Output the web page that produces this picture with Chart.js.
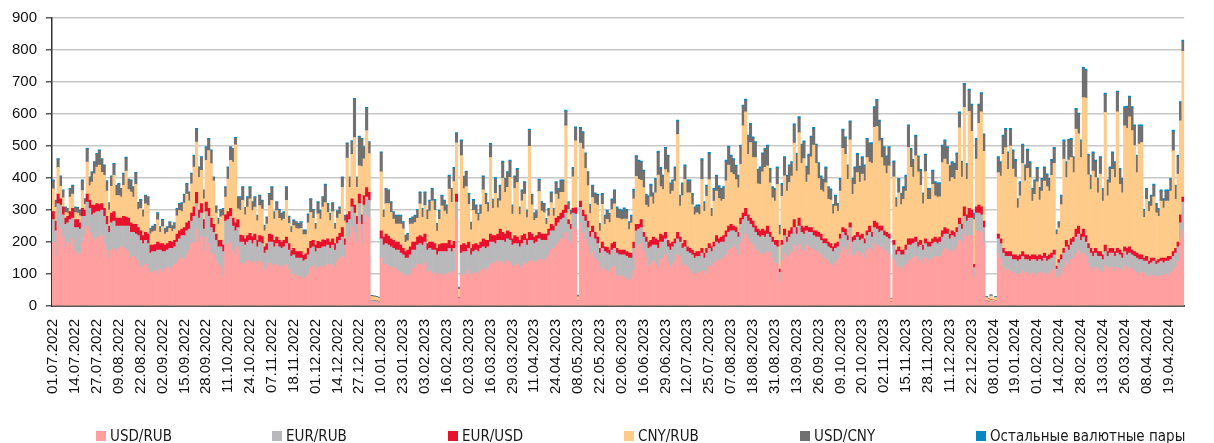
<!DOCTYPE html>
<html>
<head>
<meta charset="utf-8">
<script src="https://cdn.jsdelivr.net/npm/chart.js@4.4.1/dist/chart.umd.min.js"></script>
<style>
html,body{margin:0;padding:0;background:#fff;overflow:hidden;}
#wrap{position:relative;width:1214px;height:443px;}
#c{position:absolute;left:0;top:0;}
.lg{position:absolute;top:428px;font-family:"DejaVu Sans Condensed","DejaVu Sans",sans-serif;font-stretch:condensed;font-size:15px;line-height:17px;color:#1a1a1a;white-space:nowrap;}
.mk{position:absolute;top:431px;width:10px;height:10px;}
</style>
</head>
<body>
<div id="wrap">
<canvas id="c" width="1214" height="443"></canvas>
<div id="legend"></div>
</div>
<script>
const seriesNames = ['USD/RUB','EUR/RUB','EUR/USD','CNY/RUB','USD/CNY','Остальные валютные пары'];
const seriesColors = ['#FF9F9F','#B9B9BB','#E8112D','#FFCB8A','#707070','#0A86BF'];

const tickLabels = ['01.07.2022','14.07.2022','27.07.2022','09.08.2022','22.08.2022','02.09.2022','15.09.2022','28.09.2022','11.10.2022','24.10.2022','07.11.2022','18.11.2022','01.12.2022','14.12.2022','27.12.2022','10.01.2023','23.01.2023','03.02.2023','16.02.2023','02.03.2023','16.03.2023','29.03.2023','11.04.2023','24.04.2023','08.05.2023','22.05.2023','02.06.2023','16.06.2023','29.06.2023','12.07.2023','25.07.2023','07.08.2023','18.08.2023','31.08.2023','13.09.2023','26.09.2023','09.10.2023','20.10.2023','02.11.2023','15.11.2023','28.11.2023','11.12.2023','22.12.2023','08.01.2024','19.01.2024','01.02.2024','14.02.2024','28.02.2024','13.03.2024','26.03.2024','08.04.2024','19.04.2024'];

const USD_RUB = [
200,155,250,240,215,185,200,190,210,170,
160,165,200,225,250,230,215,205,215,210,
220,195,175,150,175,180,170,180,185,180,
175,170,150,155,145,140,120,125,130,115,
105,105,110,100,115,105,115,120,115,125,
130,135,145,150,145,160,175,195,200,240,
200,215,170,215,195,165,160,140,130,120,
90,190,195,200,175,160,
185,135,135,130,140,140,135,140,130,140,
135,110,120,135,130,125,130,125,120,125,
130,115,95,100,90,95,90,85,90,100,
120,125,115,120,125,120,125,130,125,130,
120,140,150,155,150,200,215,250,230,200,
260,195,260,285,275,12,11,10,9,150,
130,130,125,120,120,115,110,105,100,90,
95,100,115,120,130,130,125,135,
105,110,100,105,95,100,100,95,100,105,
95,110,270,22,95,100,100,110,95,100,
105,100,110,115,110,120,130,135,130,140,
135,140,130,140,135,125,125,130,120,125,
135,130,140,140,135,140,145,145,140,150,
160,175,180,190,200,210,210,230,205,195,
245,237,14,258,230,210,190,160,170,150,
140,110,120,115,110,105,120,125,
95,90,95,90,85,80,85,110,180,190,
195,170,150,125,130,140,130,120,145,150,
160,135,120,130,140,160,155,125,130,120,
110,105,100,100,105,110,100,110,125,120,
135,145,140,145,150,160,175,180,185,175,
160,195,210,225,210,200,190,175,170,160,
165,160,170,165,150,135,130,75,140,165,
150,160,170,190,170,190,175,170,
190,185,180,175,170,170,160,150,145,140,
130,125,135,145,165,185,175,160,200,155,
160,170,155,165,150,175,180,170,195,190,
180,185,175,170,160,10,145,120,125,115,
120,130,140,145,150,155,140,145,135,150,
140,145,150,155,150,155,170,180,175,165,
175,170,185,205,195,225,215,220,220,90,
235,235,230,195,12,10,14,9,12,
165,150,120,110,115,110,105,100,100,100,
110,105,100,100,105,100,95,105,100,105,
100,100,110,115,90,90,100,120,140,130,
145,150,165,175,160,165,155,135,120,110,
120,115,110,105,125,115,120,120,110,120,
115,110,125,115,120,115,110,105,100,105,
100,95,90,95,95,90,95,95,95,100,
95,105,110,120,140,210,235
];

const EUR_RUB = [
70,80,70,75,70,70,60,80,65,75,
85,75,80,55,75,75,70,85,80,85,
80,85,80,80,85,85,80,70,65,70,
75,80,80,75,80,80,85,70,75,80,
60,65,60,75,60,65,55,55,65,55,
55,65,65,70,75,75,65,70,80,80,
75,75,70,80,85,80,70,65,55,65,
80,75,75,80,75,75,
60,65,65,60,60,65,60,65,55,60,
60,55,55,65,70,60,65,60,60,60,
65,60,60,60,60,55,60,55,55,60,
60,60,55,60,55,65,60,60,55,60,
55,55,55,60,40,60,55,60,60,55,
60,60,55,55,55,5,5,5,4,60,
60,65,65,65,60,60,65,60,60,60,
55,60,60,55,60,65,65,65,
70,70,75,70,65,70,70,75,70,75,
75,70,55,3,70,70,70,70,65,70,
70,70,70,70,70,65,70,65,65,65,
70,65,70,70,70,65,70,65,65,70,
70,60,65,65,60,60,65,60,65,55,
60,60,55,60,60,60,65,60,50,45,
45,50,2,50,50,55,55,55,60,60,
55,55,60,55,55,55,55,55,
70,70,65,70,70,70,65,70,55,50,
50,45,50,55,55,50,60,60,55,50,
50,50,55,55,55,50,45,55,55,50,
55,55,50,55,50,55,50,55,55,50,
50,55,55,55,50,55,55,55,50,55,
55,60,60,55,55,55,55,55,50,55,
55,55,55,50,50,55,55,30,50,55,
50,55,55,55,55,60,55,55,
45,45,50,45,45,45,45,45,50,45,
50,45,45,40,45,45,45,45,45,45,
45,45,50,45,45,45,50,45,50,50,
50,50,45,45,50,2,45,40,45,45,
40,45,50,45,45,45,45,45,40,45,
45,40,45,45,45,45,45,45,50,45,
45,45,45,50,45,55,50,55,55,30,
55,55,55,50,3,3,4,2,3,
45,45,45,45,40,45,40,45,40,45,
45,40,45,40,40,45,45,40,40,45,
40,45,40,45,25,45,45,45,45,45,
45,50,50,50,45,50,45,45,45,45,
45,40,45,40,45,40,45,45,45,45,
45,40,45,45,45,45,45,45,45,40,
40,45,40,40,45,40,40,45,40,40,
45,40,45,45,45,50,90
];

const EUR_USD = [
25,30,30,20,25,20,20,25,30,25,
25,20,25,20,25,25,30,25,25,22,
20,25,25,20,30,30,25,25,25,30,
28,25,30,25,30,25,30,25,25,30,
25,20,22,25,20,25,20,20,22,20,
20,25,25,20,25,25,25,25,30,35,
25,30,30,30,25,30,25,20,20,20,
20,20,25,25,25,25,
25,22,20,20,20,22,22,20,20,20,
22,20,20,25,22,20,20,20,20,20,
20,20,18,20,20,20,20,18,18,20,
22,20,20,22,20,22,20,20,20,20,
20,20,22,30,20,25,25,25,25,25,
30,30,30,30,25,1,1,1,1,25,
25,30,28,25,25,25,25,25,20,20,
25,25,25,25,25,25,25,25,
20,20,25,20,20,22,25,25,25,25,
20,22,25,1,25,25,20,20,20,22,
20,20,20,25,25,20,25,20,25,20,
35,25,25,25,25,20,25,20,20,25,
20,20,25,20,20,20,20,20,20,20,
20,20,15,25,20,20,25,25,15,15,
15,20,0,20,20,20,20,18,20,20,
20,15,20,15,18,15,20,20,
15,15,15,15,15,15,15,20,20,15,
25,15,15,20,20,25,20,25,25,20,
20,20,20,15,15,20,15,15,20,15,
15,15,15,15,15,15,15,15,15,15,
15,20,15,15,20,20,20,20,15,15,
15,20,20,25,20,20,20,20,20,20,
20,20,25,15,15,15,20,10,15,20,
15,20,20,25,20,25,20,20,
15,15,15,15,20,15,20,15,15,15,
15,15,15,15,15,15,20,15,15,15,
15,15,15,15,15,15,20,15,20,20,
20,15,15,15,15,1,15,15,15,15,
15,15,20,20,15,15,15,15,15,15,
15,15,15,15,15,15,20,20,15,15,
15,15,15,20,15,30,20,30,25,10,
20,25,25,20,1,1,1,1,1,
15,15,15,15,15,15,15,15,15,15,
15,15,15,15,15,15,15,15,15,15,
15,15,15,15,10,10,15,15,20,15,
20,15,25,25,20,25,20,15,15,15,
15,15,15,15,20,15,15,15,15,15,
15,15,15,20,20,15,15,15,15,15,
10,15,10,15,10,10,10,10,15,10,
15,10,15,15,15,25,15
];

const CNY_RUB = [
71,43,83,39,28,17,10,45,45,22,
20,22,56,18,100,46,72,98,114,123,
98,103,79,50,84,113,70,70,65,97,
144,89,96,85,125,56,70,59,89,89,
35,42,42,69,35,53,35,35,41,33,
35,57,63,55,77,90,64,92,124,157,
102,104,65,130,181,170,136,65,51,74,
92,55,102,150,175,244,
34,77,110,75,89,108,81,84,61,94,
86,50,61,89,108,67,83,69,67,67,
115,63,57,71,73,70,73,65,60,80,
91,69,50,86,72,102,118,83,67,85,
45,60,60,126,56,177,76,139,211,91,
88,151,115,178,121,12,12,11,11,184,
62,95,102,83,67,56,56,66,61,29,
29,71,56,61,59,99,62,89,
76,97,129,104,54,79,118,102,92,160,
134,187,160,26,280,172,183,118,58,107,
92,76,87,153,113,89,239,85,132,82,
89,169,130,136,172,77,148,171,81,109,
125,66,269,91,53,54,128,72,67,30,
41,68,31,75,54,65,55,248,32,30,
99,209,13,181,191,145,111,56,89,90,
100,54,118,70,88,86,106,119,
95,98,95,97,102,74,94,135,150,141,
123,140,100,109,136,104,144,204,148,144,
196,212,155,159,180,306,97,150,191,169,
174,142,120,121,116,216,131,163,200,95,
128,139,126,113,113,156,190,162,161,150,
139,168,273,302,189,236,199,214,142,145,
179,198,188,155,123,123,175,108,138,167,
144,151,161,239,177,267,196,216,
137,165,221,268,211,168,137,147,175,133,
136,103,117,96,134,248,234,176,259,134,
160,187,167,187,181,229,200,216,293,301,
266,214,203,184,213,9,199,134,169,142,
158,169,286,223,193,254,219,172,129,210,
133,133,170,129,130,126,213,214,203,164,
166,166,179,282,148,311,111,303,246,140,
149,256,297,218,10,8,12,7,10,
192,196,294,325,257,330,268,243,151,184,
276,231,270,246,168,189,233,171,204,225,
218,199,243,271,98,99,157,279,196,266,
254,202,313,288,239,411,430,215,184,252,
221,184,242,168,415,174,205,247,231,427,
205,189,378,375,406,373,331,252,346,351,
127,178,156,162,191,151,135,178,156,178,
173,204,315,153,212,294,456
];

const USD_CNY = [
25,20,25,30,22,15,12,25,25,15,
15,15,30,15,40,25,30,35,40,45,
40,30,30,20,30,35,30,35,25,35,
40,30,35,30,35,20,25,18,25,25,
15,15,18,20,15,20,15,15,18,15,
18,20,20,25,25,30,25,30,35,40,
30,40,25,40,35,40,10,20,15,20,
20,30,35,40,40,20,
35,40,40,20,30,35,25,30,15,30,
25,15,20,35,40,20,25,25,20,20,
40,20,15,15,18,15,18,12,12,25,
40,25,15,35,25,30,55,25,20,25,
15,20,20,30,15,45,30,40,120,30,
90,85,35,70,35,2,2,2,2,60,
20,45,40,30,20,25,25,25,20,20,
20,15,20,20,25,35,25,40,
25,30,35,30,20,25,30,30,25,40,
40,40,28,6,45,35,45,30,20,30,
25,20,25,40,30,25,40,25,45,25,
45,50,40,45,50,25,35,40,20,30,
35,20,50,30,20,20,35,25,25,15,
20,30,20,35,30,35,35,45,20,10,
25,40,4,45,50,45,40,25,35,30,
30,20,30,25,25,25,30,40,
30,25,25,30,25,20,20,25,60,55,
55,50,30,30,35,30,40,70,55,40,
65,50,30,30,40,40,30,35,40,35,
35,30,20,20,25,60,25,30,80,20,
35,45,35,35,35,60,55,50,45,40,
35,55,60,35,55,55,60,45,40,50,
55,55,60,40,30,35,50,25,35,55,
45,50,40,55,50,45,55,50,
45,60,60,50,55,45,40,35,45,35,
30,25,30,20,35,55,50,40,55,45,
50,55,45,50,45,55,55,60,60,80,
60,55,55,50,55,2,45,25,40,30,
35,45,65,55,50,60,45,45,30,50,
30,30,40,40,40,40,50,55,50,45,
45,45,50,45,45,70,45,65,80,15,
60,55,55,50,3,2,3,2,3,
45,40,55,55,50,50,55,50,25,40,
55,45,55,45,35,40,40,35,35,40,
35,35,45,45,10,15,25,55,45,60,
55,45,60,60,50,90,85,60,40,55,
50,40,50,35,55,45,45,50,45,60,
45,40,55,65,60,70,60,50,55,50,
20,30,25,30,35,25,20,30,25,30,
30,35,60,40,55,55,30
];

const OTHER_PAIRS = [
3,3,3,3,3,3,3,3,3,3,
3,3,3,3,3,3,3,3,3,3,
3,3,3,3,3,3,3,3,3,3,
3,3,3,3,3,3,3,3,3,3,
3,3,3,3,3,3,3,3,3,3,
3,3,3,3,3,3,3,3,3,3,
3,3,3,3,3,3,3,3,3,3,
3,3,3,3,3,3,3,3,3,3,
3,3,3,3,3,3,3,3,3,3,
3,3,3,3,3,3,3,3,3,3,
3,3,3,3,3,3,3,3,3,3,
3,3,3,3,3,3,3,3,3,3,
3,3,3,3,3,3,3,3,3,3,
3,1,1,1,1,3,3,3,3,3,
3,3,3,3,3,3,3,3,3,3,
3,3,3,3,4,4,4,4,4,4,
4,4,4,4,4,4,4,1,4,4,
4,4,4,4,4,4,4,4,4,4,
4,4,4,4,4,4,4,4,4,4,
4,4,4,4,4,4,4,4,4,4,
4,4,4,4,4,4,4,4,4,4,
4,4,4,4,4,4,1,4,4,4,
4,4,4,4,4,4,4,4,4,4,
4,4,5,5,5,5,5,5,5,5,
5,5,5,5,5,5,5,5,5,5,
5,5,5,5,5,5,5,5,5,5,
5,5,5,5,5,5,5,5,5,5,
5,5,5,5,5,5,5,5,5,5,
5,5,5,5,5,5,5,5,5,5,
5,5,5,5,5,5,5,5,5,5,
5,5,5,5,5,5,5,5,5,5,
5,5,5,5,5,5,5,5,5,5,
5,5,5,5,5,5,5,5,5,5,
5,5,5,5,5,5,5,5,5,5,
5,5,5,5,5,1,5,5,5,5,
5,5,5,5,5,5,5,5,5,5,
5,5,5,5,5,5,5,5,5,5,
5,5,5,5,5,5,5,5,5,5,
5,5,5,5,1,1,1,1,1,5,
5,5,5,5,5,5,5,5,5,5,
5,5,5,5,5,5,5,5,5,5,
5,5,5,5,5,5,5,5,5,5,
5,5,5,5,5,5,5,5,5,5,
5,5,5,5,5,5,5,5,5,5,
5,5,5,5,5,5,5,5,5,5,
5,5,5,5,5,5,5,5,5,5,
5,5,5,5,5,5
];

const seriesData = [USD_RUB, EUR_RUB, EUR_USD, CNY_RUB, USD_CNY, OTHER_PAIRS];
const N = USD_RUB.length;
const labels = [];
for (let i = 0; i < N; i++) labels.push(i % 9 === 0 && tickLabels[i / 9] ? tickLabels[i / 9] : '');

const tickFont = {family: '"Liberation Sans", Arial, sans-serif', size: 15};

new Chart(document.getElementById('c'), {
  type: 'bar',
  data: {
    labels: labels,
    datasets: seriesNames.map((name, k) => ({
      label: name,
      data: seriesData[k],
      backgroundColor: seriesColors[k],
      borderWidth: 0,
      categoryPercentage: 1.0,
      barPercentage: 1.0
    }))
  },
  options: {
    responsive: false,
    animation: false,
    devicePixelRatio: 1,
    layout: {padding: {top: 18, right: 0, bottom: 0, left: 0}},
    plugins: {legend: {display: false}, tooltip: {enabled: false}},
    scales: {
      x: {
        stacked: true,
        grid: {display: false, drawTicks: false},
        border: {display: true, color: '#555555', width: 2},
        ticks: {autoSkip: false, maxRotation: 90, minRotation: 90, padding: 13, color: '#111', font: tickFont},
        afterFit: s => { s.height = 137; }
      },
      y: {
        stacked: true,
        min: 0, max: 900,
        grid: {color: '#C8C8C8', lineWidth: 1.6, tickLength: 6, tickColor: '#333333', tickWidth: 1.2},
        border: {display: true, color: '#333333', width: 1.5},
        ticks: {stepSize: 100, padding: 9, color: '#111', font: tickFont},
        afterFit: s => { s.width = 52; }
      }
    }
  }
});

// legend (HTML text), fixed slots as in the original
const legendX = [96, 272, 448, 624, 800, 976];
const lg = document.getElementById('legend');
seriesNames.forEach((name, k) => {
  const m = document.createElement('div');
  m.className = 'mk';
  m.style.left = legendX[k] + 'px';
  m.style.background = seriesColors[k];
  lg.appendChild(m);
  const t = document.createElement('div');
  t.className = 'lg';
  t.style.left = (legendX[k] + 14) + 'px';
  t.textContent = name;
  lg.appendChild(t);
});
if (seriesData.some(a => a.length !== N)) {
  const e = document.createElement('div');
  e.style.cssText = 'position:absolute;left:600px;top:0;color:red;font:12px sans-serif';
  e.textContent = 'len mismatch ' + seriesData.map(a => a.length).join(',');
  lg.appendChild(e);
}
</script>
</body>
</html>
